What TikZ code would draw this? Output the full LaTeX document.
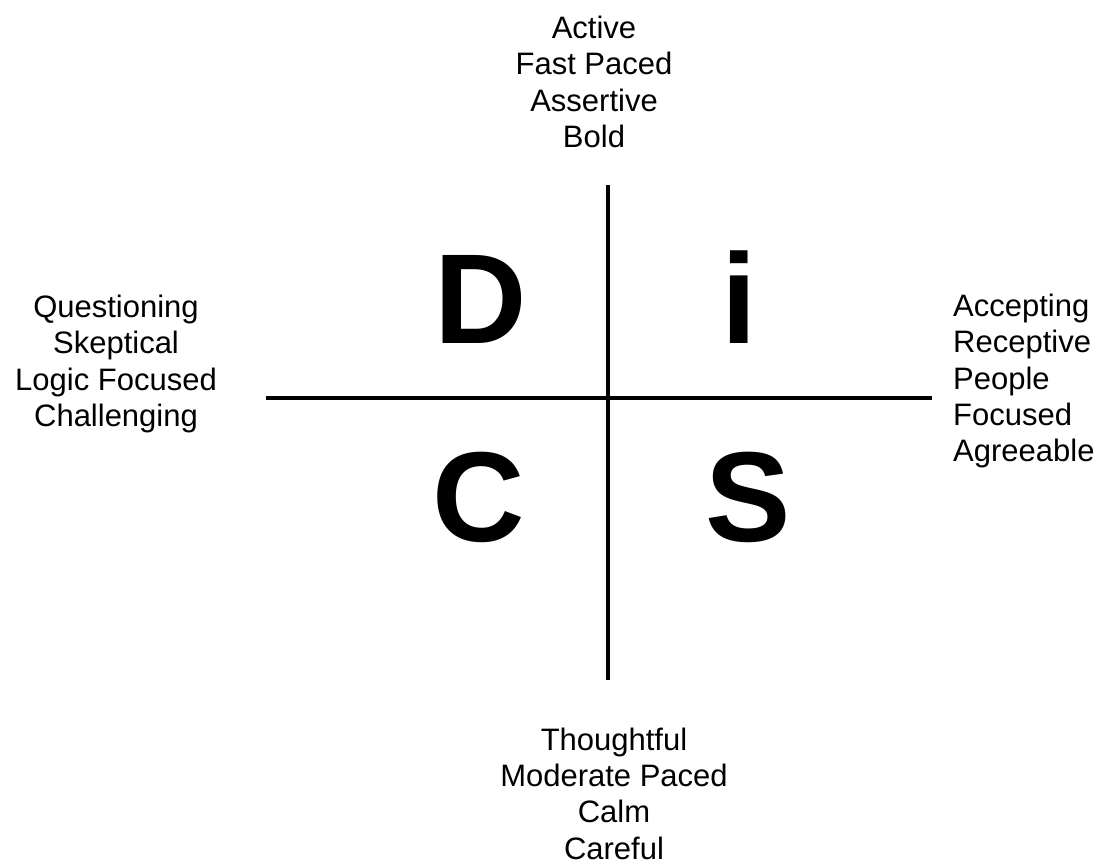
\documentclass[tikz,border=0pt]{standalone}
\usepackage{fontspec}
\setmainfont{Liberation Sans}
\usepackage{xcolor}
\definecolor{Ink}{HTML}{000000}
\usepackage{tikz}
\usetikzlibrary{positioning,calc}
\tikzset{
  trait/.style={align=center,text=Ink,inner sep=0pt,anchor=north,
    font=\fontsize{31}{36.3}\selectfont},
  letter/.style={text=Ink,inner sep=0pt,anchor=base,
    font=\fontsize{128}{128}\selectfont\bfseries},
  axis/.style={line width=4pt,draw=Ink}
}
\begin{document}
\begin{tikzpicture}[x=1pt,y=-1pt]
\useasboundingbox (0,0) rectangle (1103,863);
\coordinate (top) at (608,185);
\coordinate (bottom) at (608,680);
\coordinate (left) at (266,397.5);
\coordinate (right) at (932,397.5);
\draw[axis] (top)--(bottom);
\draw[axis] (left)--(right);
\node[letter] (d) at (481,343) {D};
\node[letter] (i) at (739,343) {i};
\node[letter] (c) at (479,541) {C};
\node[letter] (s) at (748,541) {S};
\node[trait] (active) at (594,16) {Active\\Fast Paced\\Assertive\\Bold};
\node[trait] (question) at (116,295) {Questioning\\Skeptical\\Logic Focused\\Challenging};
\node[trait,align=left,anchor=north west] (accept) at (953,294) {Accepting\\Receptive\\People\\Focused\\Agreeable};
\node[trait] (thought) at (614,727.5) {Thoughtful\\Moderate Paced\\Calm\\Careful};
\end{tikzpicture}
\end{document}
